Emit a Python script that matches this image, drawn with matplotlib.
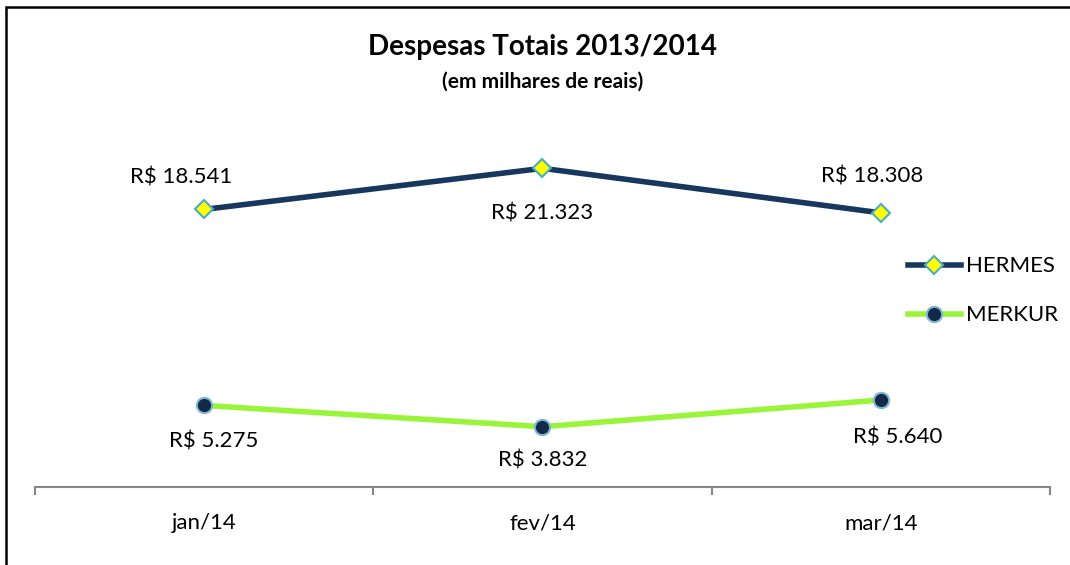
import numpy as np
import matplotlib.pyplot as plt
from matplotlib.patches import Rectangle

months = ['jan/14', 'fev/14', 'mar/14']
hermes = [18541, 21323, 18308]
merkur = [5275, 3832, 5640]
hermes_labels = ['R$ 18.541', 'R$ 21.323', 'R$ 18.308']
merkur_labels = ['R$ 5.275', 'R$ 3.832', 'R$ 5.640']

plt.rcParams['font.family'] = ['Lato', 'DejaVu Sans']

fig = plt.figure(figsize=(10.7, 5.65), dpi=100)
ax = fig.add_axes([0.0327, 0.138, 0.9486, 0.655])

x = np.arange(len(months))
ax.plot(x, hermes, color='#17375E', lw=4, marker='D', ms=9,
        mfc='#FFFF00', mec='#4BACC6', mew=1.5, label='HERMES', zorder=3)
ax.plot(x, merkur, color='#99F53A', lw=4, marker='o', ms=11,
        mfc='#13294A', mec='#7FB7D0', mew=1.5, label='MERKUR', zorder=3)

# label offsets (pixels -> points)
h_off = [(-23, 32), (0, -45), (-9, 36)]
m_off = [(10, -36), (0, -34), (17, -37)]
fs = 16
for i in range(len(months)):
    dx, dy = h_off[i]
    ax.annotate(hermes_labels[i], (x[i], hermes[i]), xytext=(dx * 0.72, dy * 0.72),
                textcoords='offset points', ha='center', va='center', fontsize=fs)
    dx, dy = m_off[i]
    ax.annotate(merkur_labels[i], (x[i], merkur[i]), xytext=(dx * 0.72, dy * 0.72),
                textcoords='offset points', ha='center', va='center', fontsize=fs)

ax.set_xlim(-0.5, 2.5)
ax.set_ylim(-250, 24800)
for s in ['top', 'right', 'left']:
    ax.spines[s].set_visible(False)
ax.spines['bottom'].set_color('#868686')
ax.spines['bottom'].set_linewidth(1.5)
ax.set_yticks([])
ax.set_xticks(x)
ax.set_xticklabels(months, fontsize=fs)
ax.tick_params(axis='x', which='major', length=0, pad=19)
ax.set_xticks([-0.5, 0.5, 1.5, 2.5], minor=True)
ax.tick_params(axis='x', which='minor', length=6, width=1.5, color='#868686', direction='out')

leg = ax.legend(loc='center left', bbox_to_anchor=(0.84, 0.53), frameon=False,
                fontsize=fs, handlelength=2.4, labelspacing=1.3, handletextpad=0.25)

fig.text(0.507, 0.917, 'Despesas Totais 2013/2014', ha='center', va='center',
         fontsize=20, fontweight='bold')
fig.text(0.507, 0.855, '(em milhares de reais)', ha='center', va='center',
         fontsize=15, fontweight='bold')

fig.patches.append(Rectangle((0.0055, -0.05), 1.2, 1.037, transform=fig.transFigure,
                             fill=False, ec='black', lw=1.8))

plt.savefig('out.png')
